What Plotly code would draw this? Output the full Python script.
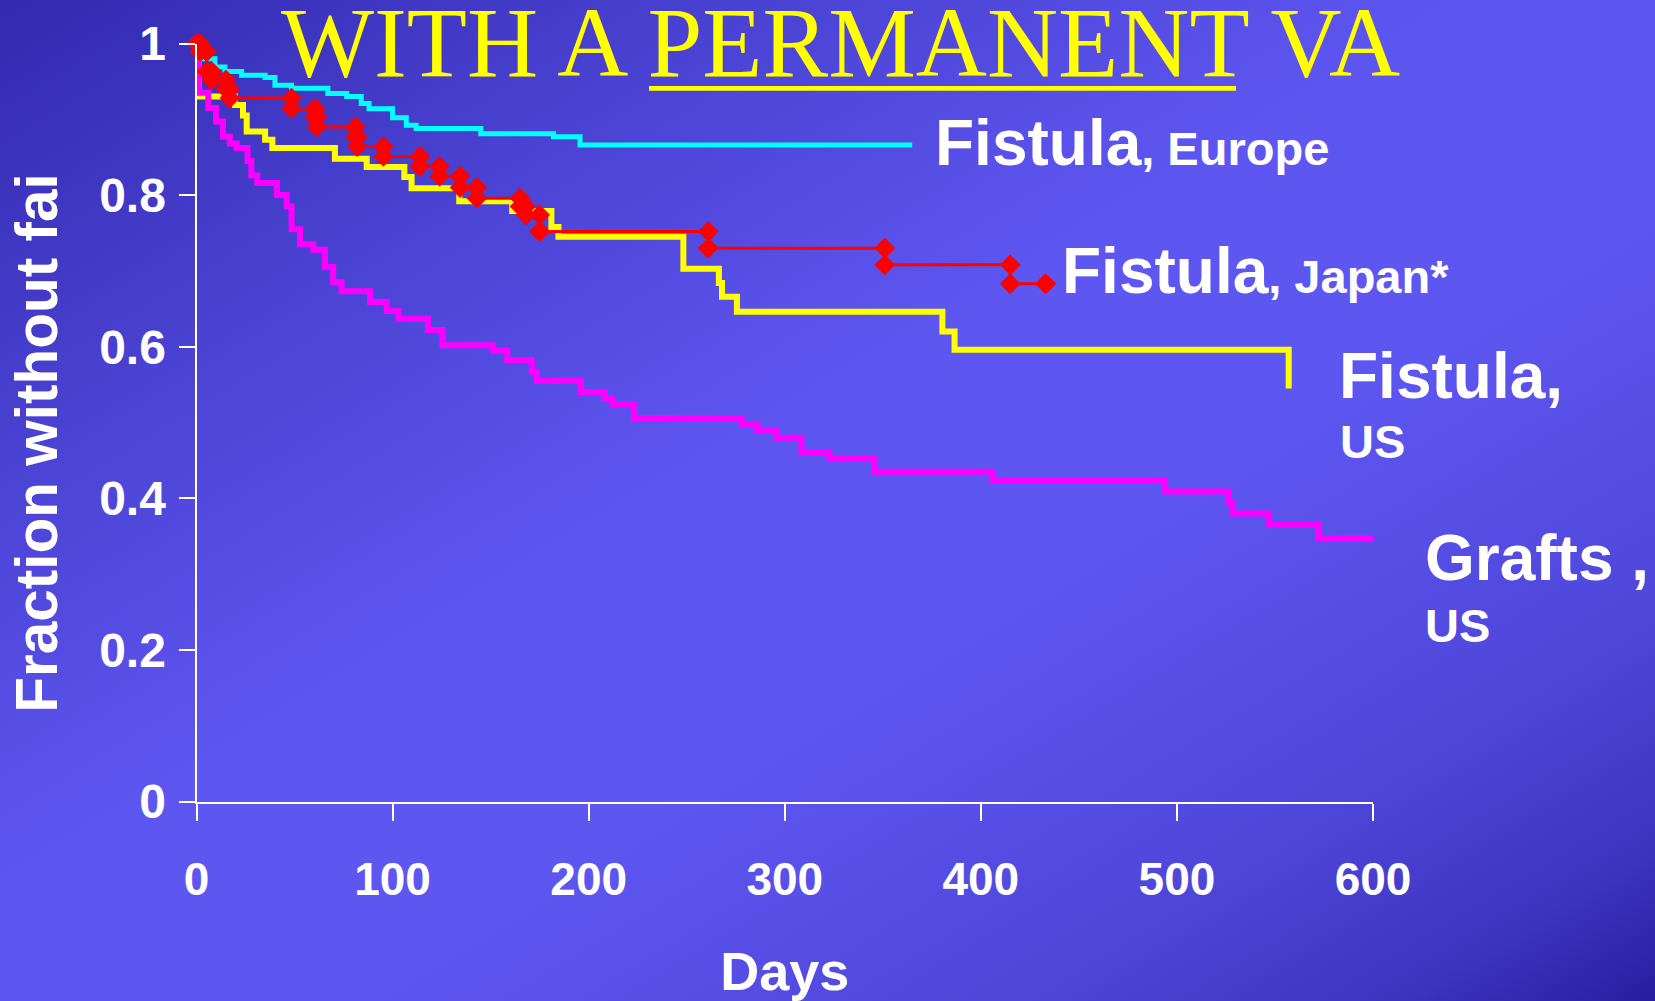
import base64
import plotly.graph_objects as go

# ---------------- data ----------------
days_ticks = [0, 100, 200, 300, 400, 500, 600]
frac_ticks = [0, 0.2, 0.4, 0.6, 0.8, 1.0]
frac_ticktext = ["0", "0.2", "0.4", "0.6", "0.8", "1"]

europe_days = [0, 2, 9.4, 14.5, 23, 35, 40, 48.5, 67, 76.6, 84, 88, 100, 107, 112, 145, 182, 195.6, 365]
europe_frac = [1.0, 0.98, 0.969, 0.963, 0.958, 0.955, 0.945, 0.941, 0.934, 0.930, 0.921, 0.914, 0.902,
               0.892, 0.888, 0.881, 0.877, 0.866, 0.866]

japan_days = [0, 1.8, 5.2, 7.8, 15, 17, 48.5, 60.4, 61.5, 81, 82, 95.3, 114, 124, 134.4, 143, 165, 168,
              175, 261, 351, 415, 433]
japan_frac = [1.0, 0.989, 0.963, 0.952, 0.94, 0.928, 0.914, 0.903, 0.89, 0.877, 0.864, 0.851, 0.838, 0.825,
              0.81, 0.796, 0.785, 0.774, 0.752, 0.730, 0.708, 0.683, 0.683]

us_fistula_days = [0, 1, 19.6, 23.7, 25.6, 35, 38.7, 70.6, 86.8, 106, 109.7, 134, 161, 181, 184.6, 248.3,
                   266.4, 268, 275.6, 380.4, 386.6, 557]
us_fistula_frac = [1.0, 0.93, 0.919, 0.905, 0.884, 0.873, 0.862, 0.848, 0.837, 0.824, 0.809, 0.792, 0.779,
                   0.758, 0.745, 0.703, 0.684, 0.666, 0.646, 0.62, 0.596, 0.545]

graft_days = [0, 1, 6, 10, 13.5, 17, 20.5, 26, 28, 31, 41, 46, 48.5, 52.8, 59.6, 65.5, 69.7, 74, 88.5, 97,
              103, 118, 125.5, 151, 158.5, 171, 173.5, 196, 208, 212, 223, 278, 286, 295.5, 308.5, 322.8,
              346, 406, 494, 526, 528.5, 547, 572, 607]
graft_frac = [1.0, 0.935, 0.915, 0.897, 0.877, 0.868, 0.862, 0.845, 0.826, 0.816, 0.80, 0.785, 0.755, 0.735,
              0.728, 0.705, 0.685, 0.673, 0.659, 0.647, 0.637, 0.622, 0.602, 0.595, 0.582, 0.567, 0.555,
              0.54, 0.532, 0.524, 0.506, 0.497, 0.49, 0.48, 0.461, 0.453, 0.435, 0.424, 0.409, 0.394,
              0.380, 0.365, 0.347, 0.347]

# ---------------- styling ----------------
W, H = 1655, 1001
SANS = "Liberation Sans, Arial, sans-serif"
SERIF = "Liberation Serif, Times New Roman, serif"

# diagonal background gradient (decorative)
svg = (
    f'<svg xmlns="http://www.w3.org/2000/svg" width="{W}" height="{H}" viewBox="0 0 {W} {H}" '
    'preserveAspectRatio="none"><defs><linearGradient id="g" x1="0" y1="0" x2="1" y2="1">'
    '<stop offset="0" stop-color="#3329b0"/>'
    '<stop offset="0.25" stop-color="#4c44d5"/>'
    '<stop offset="0.45" stop-color="#5e56f1"/>'
    '<stop offset="0.6" stop-color="#5e56f1"/>'
    '<stop offset="0.8" stop-color="#4f47da"/>'
    '<stop offset="0.92" stop-color="#3d34c0"/>'
    '<stop offset="1" stop-color="#281d9f"/>'
    f'</linearGradient></defs><rect x="0" y="0" width="{W}" height="{H}" fill="url(#g)"/></svg>'
)
bg_uri = "data:image/svg+xml;base64," + base64.b64encode(svg.encode()).decode()

# red series drawn with a marker at both corners of each step
jx, jy = [japan_days[0]], [japan_frac[0]]
for i in range(1, len(japan_days)):
    jx += [japan_days[i], japan_days[i]]
    jy += [japan_frac[i - 1], japan_frac[i]]

fig = go.Figure()
fig.add_trace(go.Scatter(x=us_fistula_days, y=us_fistula_frac, mode="lines", line_shape="hv",
                         line=dict(color="#FFFF00", width=6), cliponaxis=False, name="Fistula, US"))
fig.add_trace(go.Scatter(x=graft_days, y=graft_frac, mode="lines", line_shape="hv",
                         line=dict(color="#FF00FF", width=6), cliponaxis=False, name="Grafts, US"))
fig.add_trace(go.Scatter(x=europe_days, y=europe_frac, mode="lines", line_shape="hv",
                         line=dict(color="#00FFFF", width=5), cliponaxis=False, name="Fistula, Europe"))
fig.add_trace(go.Scatter(x=jx, y=jy, mode="lines+markers",
                         line=dict(color="#FF0000", width=3),
                         marker=dict(symbol="diamond", size=16, color="#FF0000", line=dict(width=0)),
                         cliponaxis=False, name="Fistula, Japan*"))

x0p, x1p = 196.5 / W, 1373 / W
y0p, y1p = 1 - 801.5 / H, 1 - 43.5 / H

fig.update_layout(
    width=W, height=H, autosize=False,
    margin=dict(l=0, r=0, t=0, b=0, pad=0, autoexpand=False),
    paper_bgcolor="#5048dc", plot_bgcolor="rgba(0,0,0,0)",
    showlegend=False,
    images=[dict(source=bg_uri, xref="paper", yref="paper", x=0, y=1, sizex=1, sizey=1,
                 xanchor="left", yanchor="top", sizing="stretch", layer="below")],
    xaxis=dict(domain=[x0p, x1p], range=[0, 600], tickvals=days_ticks, automargin=False,
               ticks="outside", ticklen=17, tickwidth=2, tickcolor="white",
               showline=True, linecolor="white", linewidth=2, showgrid=False, zeroline=False,
               tickfont=dict(family=SANS, size=46, color="white", weight="bold"),
               ticklabelstandoff=19,
               title=dict(text="Days", standoff=71,
                          font=dict(family=SANS, size=54, color="white", weight="bold"))),
    yaxis=dict(domain=[y0p, y1p], range=[0, 1], tickvals=frac_ticks, ticktext=frac_ticktext,
               automargin=False,
               ticks="outside", ticklen=16, tickwidth=2, tickcolor="white",
               showline=True, linecolor="white", linewidth=2, showgrid=False, zeroline=False,
               tickfont=dict(family=SANS, size=48, color="white", weight="bold"),
               ticklabelstandoff=3),
    shapes=[dict(type="line", xref="paper", yref="paper", x0=649 / W, x1=1236 / W,
                 y0=1 - 88.3 / H, y1=1 - 88.3 / H, line=dict(color="#FFFF00", width=4.7))],
)

def ann(text, x, y, size, xanchor="left", family=SANS, color="white", weight="bold", angle=0):
    fig.add_annotation(text=text, xref="paper", yref="paper", x=x, y=y, xanchor=xanchor,
                       yanchor="middle", showarrow=False, borderpad=0, borderwidth=0,
                       textangle=angle,
                       font=dict(family=family, size=size, color=color, weight=weight))

# title (underline of PERMANENT drawn as a layout shape)
ann("WITH A PERMANENT VA", 840.8 / W, 1 - 42.8 / H, 98.5, xanchor="center",
    family=SERIF, color="#FFFF00", weight="normal")

# y-axis title
ann("Fraction without fai", 37 / W, 1 - 443.8 / H, 58.5, xanchor="center", angle=-90)

# curve labels
small = "<span style='font-size:47px'>"
ann("Fistula" + small + ", Europe</span>", 935.3 / W, 1 - 142.8 / H, 64)
ann("Fistula" + small + ", Japan*</span>", 1062 / W, 1 - 271.1 / H, 64)
ann("Fistula,", 1338.6 / W, 1 - 376.1 / H, 64)
ann("US", 1339.6 / W, 1 - 442 / H, 47)
ann("Grafts ,", 1425.3 / W, 1 - 557.8 / H, 64)
ann("US", 1425 / W, 1 - 625.4 / H, 47)

fig.write_html("out.html")
